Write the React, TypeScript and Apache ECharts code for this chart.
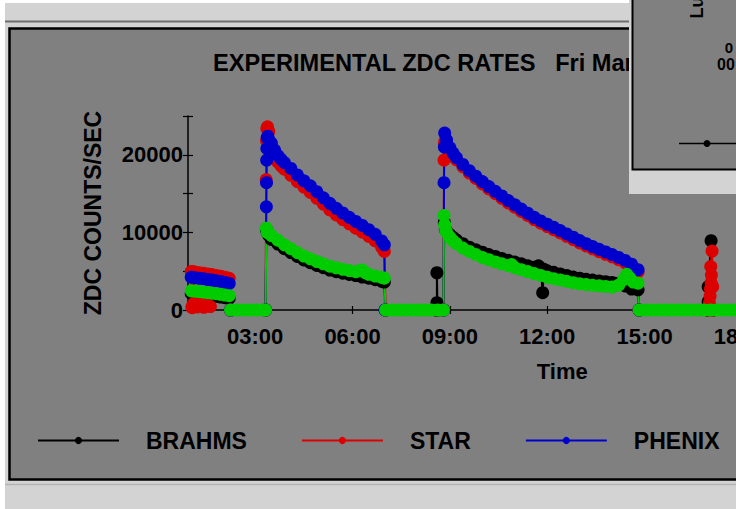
import React, { useEffect, useRef } from "react";
import * as echarts from "echarts";

const FONT = "'Liberation Sans', Arial, Helvetica, sans-serif";

const titleText = "EXPERIMENTAL ZDC RATES   Fri Mar";
const xName = "Time";
const yName = "ZDC COUNTS/SEC";
const seriesNames = ["BRAHMS", "STAR", "PHENIX", "PHOBOS"];
const legendNames = ["BRAHMS", "STAR", "PHENIX"];
const seriesColors = ["#000000", "#dc0000", "#0000cc", "#00cc00"];

const xMin = 0.93;
const xMax = 24;
const xTickValues = [3, 6, 9, 12, 15, 18, 21, 24];
const xLabelValues = [3, 6, 9, 12, 15, 18];
const yMax = 25000;
const yStep = 5000;
const yLabelValues = [0, 10000, 20000];

// [hour of day, counts/sec]
const brahms: [number, number][] = [
  [1.03, 2130], [1.15, 2080], [1.28, 2020], [1.41, 1950], [1.54, 1890], [1.67, 1820], [1.8, 1750], [1.94, 1670], [2.07, 1580], [2.2, 1500],
  [2.24, 0], [3.32, 0],
  [3.345, 10400], [3.37, 10000], [3.42, 9600], [3.5, 9100], [3.7, 8500], [3.9, 7900], [4.1, 7400], [4.3, 6900], [4.5, 6450], [4.7, 6100],
  [4.9, 5750], [5.1, 5450], [5.3, 5150], [5.5, 4930], [5.7, 4750], [5.9, 4580], [6.1, 4430], [6.3, 4250], [6.5, 4100], [6.7, 3900], [6.9, 3700], [6.98, 3600],
  [7.02, 0], [8.58, 0], [8.6, 950], [8.6, 4800], [8.62, 0], [8.8, 0],
  [8.83, 11300], [8.86, 10400], [8.9, 10100], [9.0, 9700], [9.1, 9350], [9.2, 9050], [9.4, 8550], [9.6, 8100], [9.8, 7750], [10.0, 7450],
  [10.2, 7150], [10.4, 6900], [10.6, 6650], [10.8, 6400], [11.0, 6180], [11.2, 5950], [11.4, 5700], [11.6, 5500], [11.73, 5700], [11.8, 5350],
  [11.86, 2230], [11.9, 5250], [12.0, 5050], [12.2, 4850], [12.4, 4650], [12.6, 4450], [12.8, 4250], [13.0, 4100], [13.2, 3950], [13.4, 3850],
  [13.6, 3750], [13.8, 3650], [14.0, 3550], [14.2, 3450], [14.4, 3100], [14.6, 2700], [14.8, 2600],
  [14.83, 0], [16.94, 0], [16.96, 1070], [16.96, 3000], [17.05, 8940], [17.1, 0], [18.2, 0],
];

const star: [number, number][] = [
  [1.62, 450], [1.52, 700], [1.42, 350], [1.32, 800], [1.22, 400], [1.12, 900], [1.06, 300],
  [1.03, 4950], [1.05, 400], [1.08, 4920], [1.1, 700], [1.12, 4900],
  [1.15, 4880], [1.28, 4800], [1.41, 4720], [1.54, 4650], [1.67, 4560], [1.8, 4450], [1.94, 4350], [2.07, 4230], [2.2, 4080],
  [2.24, 0], [3.32, 0],
  [3.34, 16800], [3.35, 21800], [3.36, 23400], [3.38, 23600], [3.42, 23000], [3.5, 21100], [3.6, 19950], [3.7, 19050], [3.8, 18550], [3.9, 18150],
  [4.1, 17350], [4.3, 16550], [4.5, 15850], [4.7, 15150], [4.9, 14400], [5.1, 13650], [5.3, 12900], [5.5, 12250], [5.7, 11650], [5.9, 11100],
  [6.1, 10550], [6.3, 10050], [6.5, 9500], [6.7, 8900], [6.9, 8050], [6.98, 7550],
  [7.02, 0], [8.8, 0],
  [8.82, 19300], [8.83, 21500], [8.85, 21800], [8.9, 21300], [9.0, 20500], [9.1, 19900], [9.2, 19350], [9.4, 18450], [9.6, 17650], [9.8, 16950],
  [10.0, 16250], [10.2, 15600], [10.4, 15000], [10.6, 14400], [10.8, 13800], [11.0, 13250], [11.2, 12700], [11.4, 12180], [11.6, 11650], [11.8, 11180],
  [12.0, 10750], [12.2, 10350], [12.4, 9930], [12.6, 9500], [12.8, 9080], [13.0, 8650], [13.2, 8250], [13.4, 7880], [13.6, 7520], [13.8, 7180],
  [14.0, 6850], [14.2, 6480], [14.4, 6080], [14.6, 5600], [14.8, 4900],
  [14.83, 0], [16.98, 0], [17.0, 900], [17.02, 1800], [17.03, 2700], [17.05, 3500], [17.06, 4500], [17.04, 5600], [17.08, 7600], [17.1, 3000], [17.12, 0], [18.2, 0],
];

const phenix: [number, number][] = [
  [1.03, 4230], [1.15, 4160], [1.28, 4090], [1.41, 4030], [1.54, 3930], [1.67, 3860], [1.8, 3760], [1.94, 3680], [2.07, 3540], [2.2, 3420],
  [2.24, 0], [3.32, 0],
  [3.345, 13300], [3.35, 16400], [3.355, 19300], [3.36, 20800], [3.37, 22200], [3.39, 22400], [3.42, 21900], [3.5, 21500], [3.6, 20600], [3.7, 19900],
  [3.8, 19400], [3.9, 19000], [4.1, 18250], [4.3, 17400], [4.5, 16650], [4.7, 16000], [4.9, 15250], [5.1, 14450], [5.3, 13750], [5.5, 13100],
  [5.7, 12500], [5.9, 11950], [6.1, 11420], [6.3, 10900], [6.5, 10350], [6.7, 9750], [6.9, 8900], [6.98, 8400],
  [7.0, 0], [8.8, 0],
  [8.82, 16400], [8.83, 21000], [8.84, 22800], [8.9, 21900], [9.0, 20900], [9.1, 20200], [9.2, 19650], [9.4, 18750], [9.6, 17950], [9.8, 17250],
  [10.0, 16550], [10.2, 15900], [10.4, 15300], [10.6, 14700], [10.8, 14100], [11.0, 13550], [11.2, 13000], [11.4, 12480], [11.6, 11950], [11.8, 11480],
  [12.0, 11050], [12.2, 10650], [12.4, 10230], [12.6, 9800], [12.8, 9380], [13.0, 8950], [13.2, 8550], [13.4, 8180], [13.6, 7820], [13.8, 7480],
  [14.0, 7150], [14.2, 6780], [14.4, 6380], [14.6, 5900], [14.8, 5200],
  [14.83, 0], [18.2, 0],
];

const phobos: [number, number][] = [
  [1.03, 2480], [1.15, 2430], [1.28, 2370], [1.41, 2300], [1.54, 2240], [1.67, 2170], [1.8, 2100], [1.94, 2020], [2.07, 1930], [2.2, 1850],
  [2.24, 0], [2.44, 0], [2.64, 0], [2.84, 0], [3.04, 0], [3.24, 0], [3.32, 0],
  [3.345, 10540], [3.37, 10000], [3.42, 9900], [3.5, 9600], [3.7, 9000], [3.9, 8400], [4.1, 7900], [4.3, 7400], [4.5, 6950], [4.7, 6600],
  [4.9, 6250], [5.1, 5950], [5.3, 5650], [5.5, 5430], [5.7, 5250], [5.9, 5080], [6.1, 4930], [6.2, 5050], [6.3, 5150], [6.4, 4800],
  [6.5, 4600], [6.7, 4380], [6.9, 4200], [6.98, 4100],
  [7.02, 0], [7.22, 0], [7.42, 0], [7.62, 0], [7.82, 0], [8.02, 0], [8.22, 0], [8.42, 0], [8.62, 0], [8.8, 0],
  [8.82, 12170], [8.84, 11000], [8.87, 10300], [8.9, 10000], [9.0, 9400], [9.1, 8900], [9.2, 8550], [9.4, 7980], [9.6, 7550], [9.8, 7150],
  [10.0, 6780], [10.2, 6480], [10.4, 6200], [10.6, 5950], [10.8, 5720], [10.9, 5850], [11.0, 5450], [11.2, 5200], [11.4, 4950], [11.6, 4700],
  [11.8, 4450], [12.0, 4220], [12.2, 4030], [12.4, 3870], [12.6, 3700], [12.8, 3520], [13.0, 3370], [13.2, 3270], [13.4, 3180], [13.6, 3110],
  [13.8, 3030], [14.0, 2950], [14.2, 3200], [14.35, 3900], [14.45, 4600], [14.55, 4100], [14.65, 3600], [14.8, 3450],
  [14.83, 0], [15.03, 0], [15.23, 0], [15.43, 0], [15.63, 0], [15.83, 0], [16.03, 0], [16.23, 0], [16.43, 0], [16.63, 0],
  [16.83, 0], [17.03, 0], [17.23, 0], [17.43, 0], [17.63, 0], [17.83, 0], [18.03, 0], [18.2, 0],
];

const seriesData = [brahms, star, phenix, phobos];

const CHART_W = 960;
const CHART_H = 509;

function hourLabel(v: number): string {
  const h = Math.round(v) % 24;
  return (h < 10 ? "0" : "") + h + ":00";
}

const boldText = (size: number) => ({
  fontFamily: FONT,
  fontSize: size,
  fontWeight: "bold" as const,
  color: "#000000",
});

export default function App() {
  const ref = useRef<HTMLDivElement | null>(null);

  useEffect(() => {
    if (!ref.current) return;
    const chart = echarts.init(ref.current, null, { renderer: "svg" });
    const axisLineStyle = { color: "#000000", width: 1.5 };
    const tickLineStyle = { color: "#000000", width: 1.2 };

    const option: any = {
      animation: false,
      backgroundColor: "#ffffff",
      title: {
        text: titleText,
        left: 213,
        top: 51,
        padding: 0,
        textStyle: boldText(23.6),
      },
      legend: {
        data: legendNames,
        left: 37,
        top: 429,
        padding: 0,
        itemWidth: 81,
        itemHeight: 9,
        itemGap: 54,
        selectedMode: false,
        textStyle: { ...boldText(23), padding: [0, 0, 0, 22] },
      },
      grid: { left: 188, top: 116, width: 748.6, height: 194 },
      xAxis: [
        {
          type: "value",
          min: xMin,
          max: xMax,
          position: "bottom",
          axisLine: { show: true, onZero: false, lineStyle: axisLineStyle },
          axisTick: { show: true, length: 4, customValues: xTickValues, lineStyle: tickLineStyle },
          axisLabel: {
            customValues: xLabelValues,
            formatter: (v: number) => hourLabel(v),
            margin: 15,
            ...boldText(22),
          },
          splitLine: { show: false },
          name: xName,
          nameLocation: "middle",
          nameGap: 50,
          nameTextStyle: boldText(22),
        },
        {
          type: "value",
          min: xMin,
          max: xMax,
          position: "bottom",
          axisLine: { show: false, onZero: false },
          axisTick: { show: true, inside: true, length: 4, customValues: xTickValues, lineStyle: tickLineStyle },
          axisLabel: { show: false },
          splitLine: { show: false },
        },
      ],
      yAxis: [
        {
          type: "value",
          min: 0,
          max: yMax,
          interval: yStep,
          position: "left",
          axisLine: { show: true, onZero: false, lineStyle: axisLineStyle },
          axisTick: { show: true, length: 5, lineStyle: tickLineStyle },
          axisLabel: {
            customValues: yLabelValues,
            formatter: (v: number) => String(v),
            margin: 5,
            ...boldText(22),
          },
          splitLine: { show: false },
          name: yName,
          nameLocation: "middle",
          nameGap: 84,
          nameTextStyle: boldText(23),
        },
        {
          type: "value",
          min: 0,
          max: yMax,
          interval: yStep,
          position: "left",
          axisLine: { show: false, onZero: false },
          axisTick: { show: true, inside: true, length: 5, lineStyle: tickLineStyle },
          axisLabel: { show: false },
          splitLine: { show: false },
        },
      ],
      series: seriesData.map((d, i) => ({
        name: seriesNames[i],
        type: "line",
        data: d,
        xAxisIndex: 0,
        yAxisIndex: 0,
        symbol: "circle",
        symbolSize: 13,
        showSymbol: true,
        clip: false,
        lineStyle: { color: seriesColors[i], width: 2 },
        itemStyle: { color: seriesColors[i] },
        emphasis: { disabled: true },
      })),
      graphic: {
        elements: [
          // window chrome
          { type: "rect", z: -100, silent: true, shape: { x: 5, y: 3, width: 1000, height: 520 }, style: { fill: "#d3d3d3" } },
          { type: "line", z: -99, silent: true, shape: { x1: 5, y1: 21.5, x2: 1000, y2: 21.5 }, style: { stroke: "#6e6e6e", lineWidth: 2 } },
          { type: "line", z: -99, silent: true, shape: { x1: 5, y1: 484.5, x2: 1000, y2: 484.5 }, style: { stroke: "#b4b4b4", lineWidth: 1.5 } },
          { type: "rect", z: -98, silent: true, shape: { x: 9.5, y: 28.5, width: 1000, height: 451 }, style: { fill: "#808080", stroke: "#000000", lineWidth: 2.5 } },
          // overlapping window at the top right
          { type: "rect", z: 100, silent: true, shape: { x: 629, y: 0, width: 400, height: 194 }, style: { fill: "#d3d3d3" } },
          { type: "rect", z: 101, silent: true, shape: { x: 632.5, y: -10, width: 400, height: 179.5 }, style: { fill: "#808080", stroke: "#000000", lineWidth: 2 } },
          {
            type: "text", z: 102, silent: true, x: 697, y: 18.5, rotation: Math.PI / 2,
            style: { text: "Luminosity", fontFamily: FONT, fontSize: 18, fontWeight: "bold", fill: "#000000", align: "left", verticalAlign: "middle" },
          },
          {
            type: "text", z: 102, silent: true, x: 733, y: 47,
            style: { text: "0", fontFamily: FONT, fontSize: 15, fontWeight: "bold", fill: "#000000", align: "right", verticalAlign: "middle" },
          },
          {
            type: "text", z: 102, silent: true, x: 717, y: 64,
            style: { text: "00:00", fontFamily: FONT, fontSize: 16, fontWeight: "bold", fill: "#000000", align: "left", verticalAlign: "middle" },
          },
          { type: "line", z: 102, silent: true, shape: { x1: 679, y1: 143.5, x2: 800, y2: 143.5 }, style: { stroke: "#000000", lineWidth: 1.3 } },
          { type: "circle", z: 103, silent: true, shape: { cx: 707, cy: 143.5, r: 3.5 }, style: { fill: "#000000" } },
        ],
      },
    };

    chart.setOption(option);
    return () => {
      chart.dispose();
    };
  }, []);

  return (
    <div
      style={{
        position: "fixed",
        left: 0,
        top: 0,
        width: 736,
        height: 509,
        overflow: "hidden",
        background: "#ffffff",
      }}
    >
      <div ref={ref} style={{ width: CHART_W, height: CHART_H }} />
    </div>
  );
}
